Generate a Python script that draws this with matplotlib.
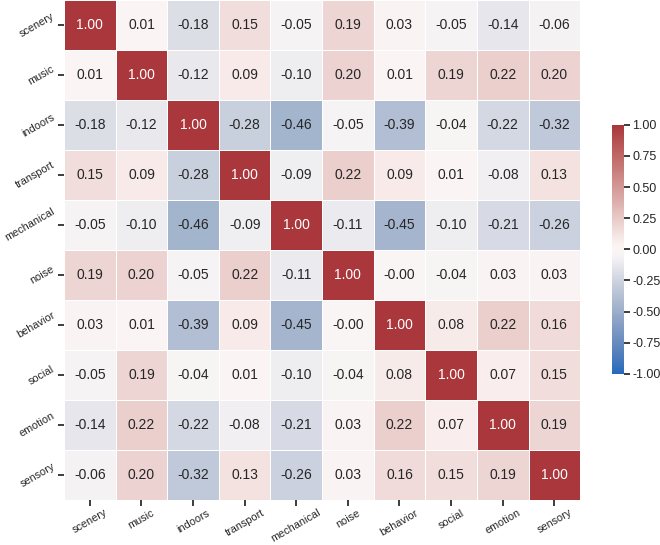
import numpy as np
import pandas as pd
import seaborn as sns
import matplotlib
matplotlib.use('Agg')
import matplotlib.pyplot as plt

labels = ['scenery', 'music', 'indoors', 'transport', 'mechanical',
          'noise', 'behavior', 'social', 'emotion', 'sensory']

# correlation rows
scenery = [1.00, 0.01, -0.18, 0.15, -0.05, 0.19, 0.03, -0.05, -0.14, -0.06]
music = [0.01, 1.00, -0.12, 0.09, -0.10, 0.20, 0.01, 0.19, 0.22, 0.20]
indoors = [-0.18, -0.12, 1.00, -0.28, -0.46, -0.05, -0.39, -0.04, -0.22, -0.32]
transport = [0.15, 0.09, -0.28, 1.00, -0.09, 0.22, 0.09, 0.01, -0.08, 0.13]
mechanical = [-0.05, -0.10, -0.46, -0.09, 1.00, -0.11, -0.45, -0.10, -0.21, -0.26]
noise = [0.19, 0.20, -0.05, 0.22, -0.11, 1.00, -0.002, -0.04, 0.03, 0.03]
behavior = [0.03, 0.01, -0.39, 0.09, -0.45, -0.002, 1.00, 0.08, 0.22, 0.16]
social = [-0.05, 0.19, -0.04, 0.01, -0.10, -0.04, 0.08, 1.00, 0.07, 0.15]
emotion = [-0.14, 0.22, -0.22, -0.08, -0.21, 0.03, 0.22, 0.07, 1.00, 0.19]
sensory = [-0.06, 0.20, -0.32, 0.13, -0.26, 0.03, 0.16, 0.15, 0.19, 1.00]

corr = pd.DataFrame([scenery, music, indoors, transport, mechanical,
                     noise, behavior, social, emotion, sensory],
                    index=labels, columns=labels)

sns.set_theme(style='ticks')
plt.rcParams['font.family'] = ['Liberation Sans', 'DejaVu Sans']

fig = plt.figure(figsize=(6.6, 5.45), dpi=100)
ax = fig.add_axes([0.097, 0.0826, 0.782, 0.9174])
cax = fig.add_axes([0.927, 0.314, 0.018, 0.457])

sns.heatmap(corr, ax=ax, cbar_ax=cax, cmap='vlag', vmin=-1, vmax=1,
            annot=True, fmt='.2f', annot_kws={'size': 10},
            linewidths=0.5, linecolor='white')

ax.set_xticklabels(labels, rotation=30, ha='center', fontsize=7.8)
ax.set_yticklabels(labels, rotation=30, ha='right', fontsize=7.8)
ax.tick_params(length=4, pad=1.5)
cax.set_yticks([-1, -0.75, -0.5, -0.25, 0, 0.25, 0.5, 0.75, 1])
cax.set_yticklabels(['%.2f' % v for v in cax.get_yticks()], fontsize=9)
cax.tick_params(length=4, pad=2)

fig.savefig('out.png', dpi=100)
